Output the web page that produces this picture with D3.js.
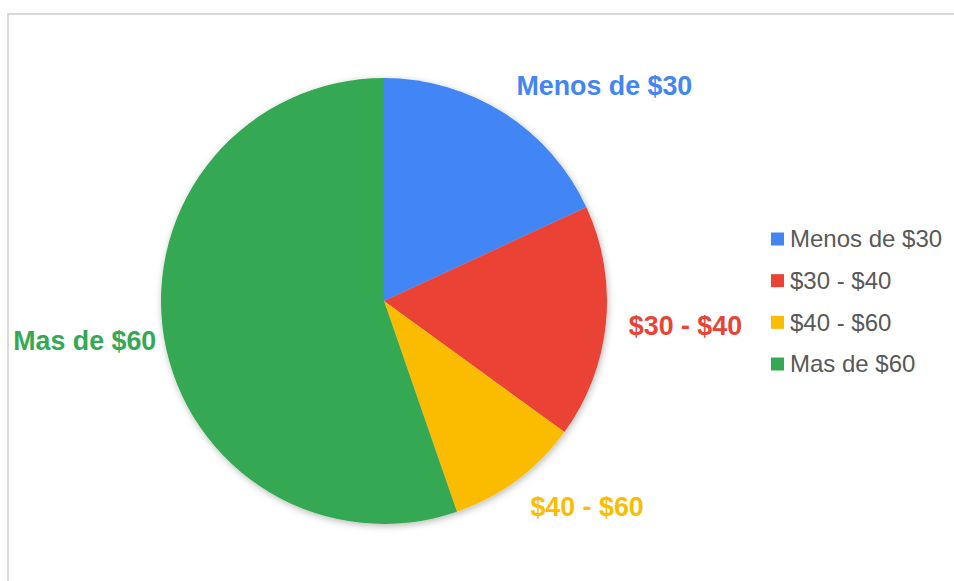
<!DOCTYPE html>
<meta charset="utf-8">
<style>
body { margin: 0; background: #fff; }
.label { font-family: "Liberation Sans", Arial, sans-serif; font-weight: bold; font-size: 26.8px; }
.legend text { font-family: "Liberation Sans", Arial, sans-serif; font-size: 24px; fill: #595959; }
</style>
<svg width="954" height="581"></svg>
<script src="https://cdn.jsdelivr.net/npm/d3@7"></script>
<script>
// data
var categories = ["Menos de $30", "$30 - $40", "$40 - $60", "Mas de $60"];
var values = [18.1, 16.9, 9.7, 55.3];
var colors = ["#4285F4", "#EA4335", "#FBBC04", "#34A853"];

var svg = d3.select("svg"),
    radius = 223,
    cx = 384, cy = 301;

// frame
svg.append("path")
    .attr("d", "M8,581V14H954")
    .attr("fill", "none")
    .attr("stroke", "#dadada")
    .attr("stroke-width", 2);

// shadow filter
svg.append("defs").append("filter")
    .attr("id", "shadow")
    .attr("x", "-20%").attr("y", "-20%").attr("width", "140%").attr("height", "140%")
  .append("feDropShadow")
    .attr("dx", 1).attr("dy", 2).attr("stdDeviation", 3.5)
    .attr("flood-color", "#000").attr("flood-opacity", 0.28);

var data = categories.map(function(c, i) { return {name: c, value: values[i], color: colors[i]}; });

var pie = d3.pie().sort(null).value(function(d) { return d.value; });
var arc = d3.arc().innerRadius(0).outerRadius(radius);
var arcs = pie(data);

var g = svg.append("g").attr("transform", "translate(" + cx + "," + cy + ")");

g.append("g").attr("filter", "url(#shadow)")
  .selectAll("path")
  .data(arcs)
  .enter().append("path")
    .attr("d", arc)
    .attr("fill", function(d) { return d.data.color; });

// slice labels, placed outside the pie along the mid angle
function mid(d) { return (d.startAngle + d.endAngle) / 2; }
function labelR(d) { return radius + (mid(d) > Math.PI ? 8 : 23); }
g.selectAll(".label")
  .data(arcs)
  .enter().append("text")
    .attr("class", "label")
    .attr("x", function(d) { return labelR(d) * Math.sin(mid(d)); })
    .attr("y", function(d) { return -labelR(d) * Math.cos(mid(d)) - Math.cos(mid(d)) * 9.5; })
    .attr("dy", "0.35em")
    .attr("text-anchor", function(d) { return mid(d) > Math.PI ? "end" : "start"; })
    .attr("fill", function(d) { return d.data.color; })
    .text(function(d) { return d.data.name; });

// legend
var ly = d3.scalePoint().domain(categories).range([239, 364]);
var legend = svg.append("g").attr("class", "legend")
  .selectAll("g")
  .data(data)
  .enter().append("g")
    .attr("transform", function(d) { return "translate(771," + ly(d.name) + ")"; });

legend.append("rect")
    .attr("y", -6.5)
    .attr("width", 13)
    .attr("height", 13)
    .attr("fill", function(d) { return d.color; });

legend.append("text")
    .attr("x", 19)
    .attr("dy", "0.35em")
    .text(function(d) { return d.name; });
</script>
